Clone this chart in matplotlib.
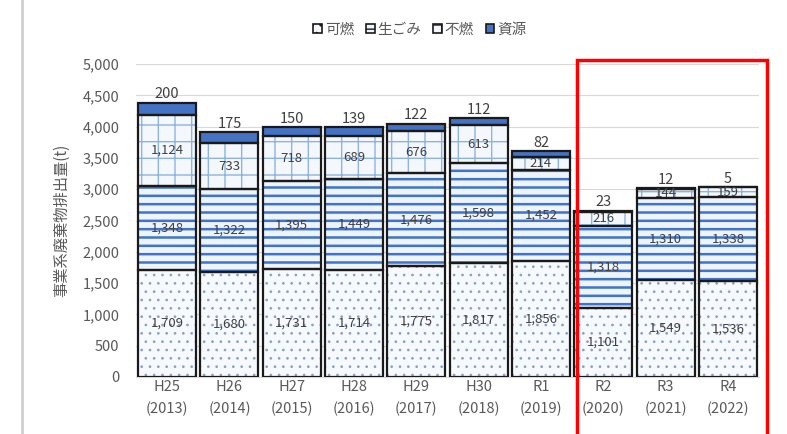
import numpy as np
import matplotlib as mpl
import matplotlib.pyplot as plt
from matplotlib.patches import Patch, Rectangle
from matplotlib.lines import Line2D

plt.rcParams['font.family'] = ['Noto Sans CJK JP', 'DejaVu Sans']

# ==========================================================
# DATA
# ==========================================================

years = ["H25\n(2013)", "H26\n(2014)", "H27\n(2015)", "H28\n(2016)", "H29\n(2017)",
         "H30\n(2018)", "R1\n(2019)", "R2\n(2020)", "R3\n(2021)", "R4\n(2022)"]
kanen = [1709, 1680, 1731, 1714, 1775, 1817, 1856, 1101, 1549, 1536]      # 可燃
namagomi = [1348, 1322, 1395, 1449, 1476, 1598, 1452, 1318, 1310, 1338]   # 生ごみ
funen = [1124, 733, 718, 689, 676, 613, 214, 216, 144, 159]               # 不燃
shigen = [200, 175, 150, 139, 122, 112, 82, 23, 12, 5]                    # 資源

# name, values, face, hatch colour, hatch, hatch linewidth
series = [
    ("可燃", kanen, "#f6f9fd", "#8aa0c0", "..", 0.7),
    ("生ごみ", namagomi, "#eef4fc", "#3f73cc", "--", 1.8),
    ("不燃", funen, "#f4f8fd", "#8fb3e0", "+", 1.0),
    ("資源", shigen, "#4472c4", "#4472c4", "", 1.0),
]

# ==========================================================
# PLOT
# ==========================================================

fig = plt.figure(figsize=(7.87, 4.34), dpi=100)
ax = fig.add_axes([136 / 787, 57 / 434, 623 / 787, 313 / 434])

x = np.arange(len(years))
width = 0.93
bottom = np.zeros(len(years))

for name, vals, face, hcol, hatch, hlw in series:
    vals = np.array(vals)
    # hatch layer
    with mpl.rc_context({"hatch.linewidth": hlw}):
        ax.bar(x, vals, width, bottom=bottom, color=face, edgecolor=hcol,
               hatch=hatch, linewidth=0, zorder=2)
    # outline
    ax.bar(x, vals, width, bottom=bottom, fill=False, edgecolor="#1a1a1a",
           linewidth=1.6, zorder=3)
    if name != "資源":
        for xi, b, v in zip(x, bottom, vals):
            ax.text(xi, b + v / 2, f"{v:,}", ha="center", va="center",
                    fontsize=9.5, color="#404040", zorder=4)
    else:
        for xi, b, v in zip(x, bottom, vals):
            ax.text(xi, b + v + 20, f"{v}", ha="center", va="bottom",
                    fontsize=10.5, color="#404040", zorder=4)
    bottom += vals

ax.set_xlim(-0.5, len(years) - 0.5)
ax.set_ylim(0, 5000)
ax.set_yticks(np.arange(0, 5001, 500))
ax.set_yticklabels([f"{v:,}" for v in range(0, 5001, 500)])
ax.set_xticks(x)
ax.set_xticklabels(years, linespacing=1.65)
ax.tick_params(axis="both", length=0, labelsize=10.5, colors="#595959")
ax.tick_params(axis="y", pad=12)
ax.tick_params(axis="x", pad=2)
ax.grid(axis="y", color="#d9d9d9", linewidth=0.8, zorder=0)
for s in ["top", "right", "left"]:
    ax.spines[s].set_visible(False)
ax.spines["bottom"].set_color("#d9d9d9")

ax.set_ylabel("事業系廃棄物排出量(t)", fontsize=11, color="#595959", labelpad=9)

handles = [Patch(facecolor=face, edgecolor="#1a1a1a", hatch=hatch, linewidth=1.2, label=name)
           for name, vals, face, hcol, hatch, hlw in series]
fig.legend(handles=handles, loc="center", bbox_to_anchor=(420 / 787, 1 - 30 / 434),
           ncol=4, frameon=False, fontsize=10.5, handlelength=0.6, handleheight=0.6,
           handletextpad=0.2, columnspacing=0.8, labelcolor="#595959")

# frame line at left and highlight box
fig.add_artist(Line2D([22 / 787, 22 / 787], [0, 1], color="#d0d0d0", linewidth=2))
fig.add_artist(Rectangle((577 / 787, -0.05), 190 / 787, 1 - 60 / 434 + 0.05,
                         fill=False, edgecolor="#ff0000", linewidth=2.5))

fig.savefig("out.png", dpi=100)
